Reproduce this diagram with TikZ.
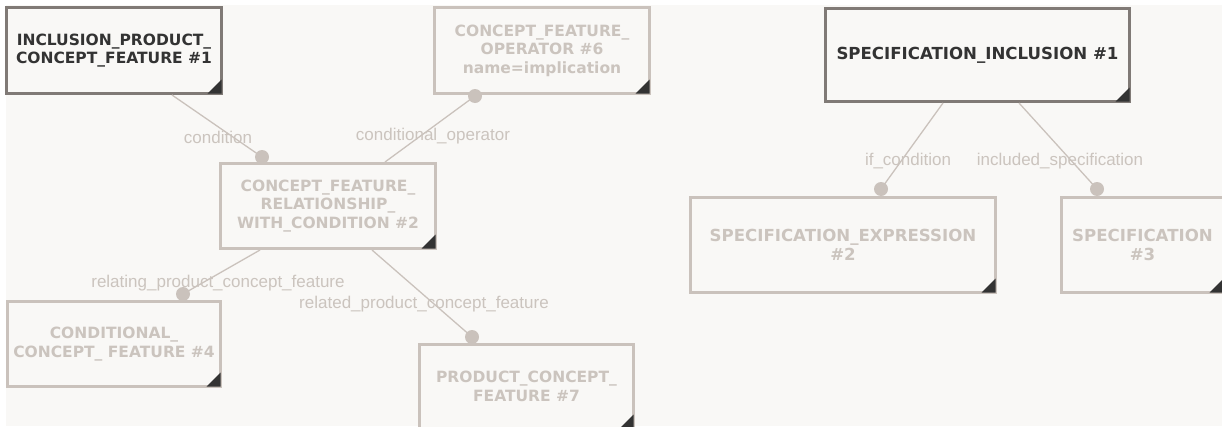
\documentclass[tikz,border=0pt]{standalone}
\usepackage{fontspec}
\setmainfont{DejaVu Sans}
\newfontfamily\lblfont{Liberation Sans}
\usetikzlibrary{calc}
\definecolor{bgc}{HTML}{F9F8F6}
\definecolor{lightc}{HTML}{CAC2BC}
\definecolor{lighttext}{HTML}{CBC4BE}
\definecolor{darkborder}{HTML}{807A76}
\definecolor{darktext}{HTML}{333333}
\definecolor{cornerc}{HTML}{333333}
\newcommand\boxcorner[1]{\fill[cornerc] ($(#1.south east)+(-1.5,-1.5)$) -- ++(-14pt,0pt) -- ++(14pt,14pt) -- cycle;}
\begin{document}
\begin{tikzpicture}[x=1pt,y=-1pt,
  box/.style={draw=lightc, line width=3pt, fill=bgc, rectangle, inner sep=0pt, align=center,
    font=\bfseries\fontsize{15.5}{18.5}\selectfont, text=lighttext, anchor=north west},
  darkbox/.style={box, draw=darkborder, text=darktext},
  bigtext/.style={font=\bfseries\fontsize{16.6}{19}\selectfont},
  conn/.style={draw=lightc, line width=1.3pt},
  dot/.style={circle, fill=lightc, minimum size=14pt, inner sep=0pt},
  lbl/.style={font=\lblfont\fontsize{17}{20}\selectfont, text=lighttext, inner sep=0pt}]
\useasboundingbox (0,0) rectangle (1222,426);
\clip (0,0) rectangle (1222,426);
\fill[white] (0,0) rectangle (1222,426);
\fill[bgc] (6,5) rectangle (1222,426);

% boxes
\node[darkbox, minimum width=215pt, minimum height=86pt] (n1) at (5,6) {INCLUSION\_PRODUCT\_\\CONCEPT\_FEATURE \#1};
\node[box, minimum width=215pt, minimum height=86pt] (n6) at (433,6) {CONCEPT\_FEATURE\_\\OPERATOR \#6\\name=implication};
\node[box, minimum width=215pt, minimum height=85pt] (n2) at (219,162) {CONCEPT\_FEATURE\_\\RELATIONSHIP\_\\WITH\_CONDITION \#2};
\node[box, minimum width=213pt, minimum height=85pt] (n4) at (6,300) {CONDITIONAL\_\\CONCEPT\_ FEATURE \#4};
\node[box, minimum width=214pt, minimum height=84pt] (n7) at (418,343) {PRODUCT\_CONCEPT\_\\FEATURE \#7};
\node[darkbox, bigtext, minimum width=304pt, minimum height=93pt] (s1) at (824,7) {SPECIFICATION\_INCLUSION \#1};
\node[box, bigtext, minimum width=305pt, minimum height=95pt] (s2) at (689,196) {SPECIFICATION\_EXPRESSION\\\#2};
\node[box, bigtext, minimum width=162pt, minimum height=95pt] (s3) at (1060,196) {SPECIFICATION\\\#3};

\foreach \b in {n1,n6,n2,n4,n7,s1,s2,s3} {\boxcorner{\b}}

% dots
\node[dot] (d1) at (262,157) {};
\node[dot] (d6) at (475,96) {};
\node[dot] (d4) at (183,294) {};
\node[dot] (d7) at (472,337) {};
\node[dot] (e2) at (881,189) {};
\node[dot] (e3) at (1097,189) {};

% connectors
\draw[conn] (172,0 |- n1.south) -- (d1.center);
\draw[conn] (d6.center) -- (385,0 |- n2.north);
\draw[conn] (260,0 |- n2.south) -- (d4.center);
\draw[conn] (372,0 |- n2.south) -- (d7.center);
\draw[conn] (943,0 |- s1.south) -- (e2.center);
\draw[conn] (1019,0 |- s1.south) -- (e3.center);

% labels
\node[lbl] (l1) at (218,137) {condition};
\node[lbl] (l2) at (433,136) {conditional\_operator};
\node[lbl] (l3) at (218,283) {relating\_product\_concept\_feature};
\node[lbl] (l4) at (424,304) {related\_product\_concept\_feature};
\node[lbl] (l5) at (908,161) {if\_condition};
\node[lbl] (l6) at (1060,161) {included\_specification};
\end{tikzpicture}
\end{document}
